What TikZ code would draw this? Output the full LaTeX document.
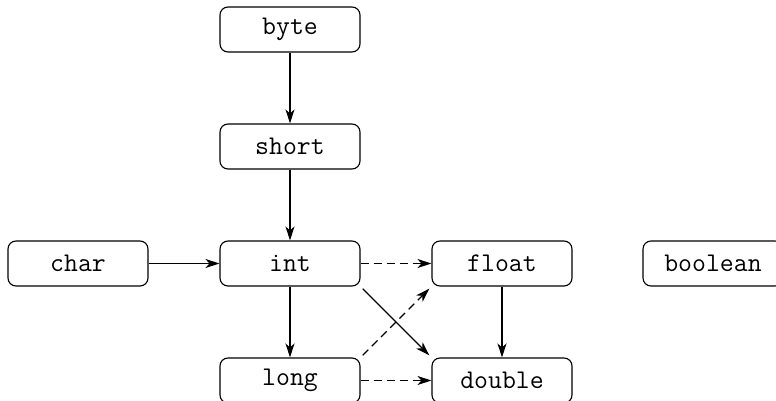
\documentclass[tikz,border=0pt]{standalone}
\usetikzlibrary{arrows.meta}
\begin{document}
\begin{tikzpicture}[x=1pt,y=1pt,
  typebox/.style={draw, line width=1.1pt, rounded corners=8pt, minimum width=140pt, minimum height=45pt, inner sep=0pt, font=\ttfamily\fontsize{27}{27}\selectfont},
  conv/.style={line width=1.1pt, -{Stealth[length=14pt,width=9pt,inset=4pt]}},
  wide/.style={conv, dash pattern=on 8pt off 5pt}]
\useasboundingbox (0,0) rectangle (776,-401);
\node[typebox] (byte) at (290,-29.5) {byte};
\node[typebox] (short) at (290,-146.5) {short};
\node[typebox] (int) at (290,-263.5) {int};
\node[typebox] (long) at (290,-380.5) {long};
\node[typebox] (char) at (78,-263.5) {char};
\node[typebox] (float) at (502,-263.5) {float};
\node[typebox] (double) at (502,-380.5) {double};
\node[typebox] (boolean) at (713,-263.5) {boolean};
\draw[conv] (byte) -- (short);
\draw[conv] (short) -- (int);
\draw[conv] (char) -- (int);
\draw[conv] (int) -- (long);
\draw[conv] (float) -- (double);
\draw[wide] (int) -- (float);
\draw[wide] (long) -- (double);
\draw[conv, shorten <=3pt, shorten >=3pt] (int.south east) -- (double.north west);
\draw[wide, shorten <=3pt, shorten >=3pt] (long.north east) -- (float.south west);
\end{tikzpicture}
\end{document}
